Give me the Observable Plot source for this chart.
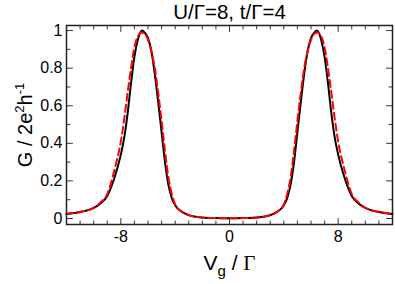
<!DOCTYPE html>
<html><head><meta charset="utf-8">
<script src="https://cdn.jsdelivr.net/npm/d3@7"></script>
<script src="https://cdn.jsdelivr.net/npm/@observablehq/plot@0.6"></script>
<style>body{margin:0;background:#fff} svg{display:block}</style>
</head><body><div id="chart"></div>
<script>
// gate voltage V_g/Γ
const vg = [-12,-11,-10,-9.5,-9,-8.5,-8,-7.75,-7.5,-7.25,-7,-6.75,-6.45,-6.2,-6,-5.75,-5.5,-5.25,-5,-4.75,-4.5,-4.25,-4,-3.5,-3,-2.5,-2,-1,0,
            1,2,2.5,3,3.5,4,4.25,4.5,4.75,5,5.25,5.5,5.75,6,6.2,6.45,6.75,7,7.25,7.5,7.75,8,8.5,9,9.5,10,11,12];
// black solid curve
const gBlack = [0.024,0.034,0.056,0.08,0.12,0.21,0.34,0.43,0.56,0.72,0.86,0.95,1.0,0.985,0.96,0.89,0.77,0.62,0.46,0.30,0.18,0.11,0.07,0.035,0.018,0.009,0.005,0.002,0.001,
                0.002,0.005,0.009,0.018,0.035,0.07,0.11,0.18,0.30,0.46,0.62,0.77,0.89,0.96,0.985,1.0,0.95,0.86,0.72,0.56,0.43,0.34,0.21,0.12,0.08,0.056,0.034,0.024];
// red dashed curve
const gRed = [0.025,0.035,0.057,0.085,0.13,0.25,0.41,0.53,0.67,0.80,0.91,0.97,0.99,0.98,0.95,0.89,0.80,0.67,0.52,0.36,0.22,0.13,0.075,0.035,0.018,0.009,0.005,0.002,0.001,
              0.002,0.005,0.009,0.018,0.035,0.075,0.13,0.22,0.36,0.52,0.67,0.80,0.89,0.95,0.98,0.99,0.97,0.91,0.80,0.67,0.53,0.41,0.25,0.13,0.085,0.057,0.035,0.025];

const xMajor = [-8, 0, 8];
const xMinor = [-11,-10,-9,-7,-6,-5,-4,-3,-2,-1,1,2,3,4,5,6,7,9,10,11];
const yMajor = [0, 0.2, 0.4, 0.6, 0.8, 1];
const yMinor = [0.1, 0.3, 0.5, 0.7, 0.9];
const title = "U/Γ=8, t/Γ=4";
const xLabelParts = [["V", ""], ["g", "sub"], [" / ", ""], ["Γ", "serif"]];
const yLabelParts = [["G / 2e", ""], ["2", "sup"], ["h", ""], ["-1", "sup"]];

const black = vg.map((v, i) => ({vg: v, g: gBlack[i]}));
const red = vg.map((v, i) => ({vg: v, g: gRed[i]}));

const FONT = "Liberation Sans, Arial, sans-serif";
const tickShape = {draw(ctx, l) { ctx.moveTo(0, 0); ctx.lineTo(0, -l); }};
const tk = "#333";
function ticksX(vals, len) {
  return [
    Plot.vector(vals, {x: d => d, frameAnchor: "bottom", length: len, rotate: 0, anchor: "start", shape: tickShape, stroke: tk, strokeWidth: 1}),
    Plot.vector(vals, {x: d => d, frameAnchor: "top", length: len, rotate: 180, anchor: "start", shape: tickShape, stroke: tk, strokeWidth: 1})
  ];
}
function ticksY(vals, len) {
  return [
    Plot.vector(vals, {y: d => d, frameAnchor: "left", length: len, rotate: 90, anchor: "start", shape: tickShape, stroke: tk, strokeWidth: 1}),
    Plot.vector(vals, {y: d => d, frameAnchor: "right", length: len, rotate: 270, anchor: "start", shape: tickShape, stroke: tk, strokeWidth: 1})
  ];
}
const joined = p => p.map(d => d[0]).join("");

const chart = Plot.plot({
  width: 395, height: 284,
  marginLeft: 66, marginRight: 3, marginTop: 25, marginBottom: 60,
  style: {fontFamily: FONT, fontSize: "16px", color: "#000", background: "#fff"},
  x: {domain: [-12, 12]},
  y: {domain: [-0.032, 1.027]},
  marks: [
    Plot.axisX(xMajor, {tickSize: 0, tickPadding: 6, fontSize: 16, fontFamily: FONT, label: null, tickFormat: d => String(d)}),
    Plot.axisY(yMajor, {tickSize: 0, tickPadding: 4, fontSize: 16, fontFamily: FONT, label: null, tickFormat: d => String(d)}),
    ...ticksX(xMajor, 6), ...ticksX(xMinor, 3.5),
    ...ticksY(yMajor, 6), ...ticksY(yMinor, 3.5),
    Plot.line(black, {x: "vg", y: "g", stroke: "#000", strokeWidth: 2, curve: "monotone-x"}),
    Plot.line(red, {x: "vg", y: "g", stroke: "#ff0000", strokeWidth: 2, strokeDasharray: "7,4", curve: "monotone-x"}),
    Plot.frame({stroke: "#222", strokeWidth: 1.5}),
    Plot.text([title], {frameAnchor: "top", lineAnchor: "middle", dy: -13, fontSize: 20.5, fontFamily: FONT, fill: "#000"}),
    Plot.text([joined(xLabelParts)], {frameAnchor: "bottom", lineAnchor: "middle", dy: 38.5, fontSize: 21, fontFamily: FONT, fill: "#000"}),
    Plot.text([joined(yLabelParts)], {frameAnchor: "left", textAnchor: "middle", lineAnchor: "middle", dx: -41, rotate: -90, fontSize: 20, fontFamily: FONT, fill: "#000"})
  ]
});
document.getElementById("chart").appendChild(chart);

function richify(parts, small, shift) {
  d3.select(chart).selectAll("text").filter(function() { return this.textContent === joined(parts); })
    .each(function() {
      const t = d3.select(this).attr("text-anchor", "middle");
      t.text(null);
      let prev = 0;
      for (const [s, kind] of parts) {
        const cur = shift[kind] || 0;
        const ts = t.append("tspan").text(s).attr("dy", (cur - prev) + "px");
        if (kind === "sub" || kind === "sup") ts.attr("font-size", small);
        if (kind === "serif") ts.attr("font-family", "Liberation Serif, Times New Roman, serif");
        prev = cur;
      }
    });
}
richify(xLabelParts, 15, {sub: 6});
richify(yLabelParts, 13, {sup: -8});
</script>
</body></html>
